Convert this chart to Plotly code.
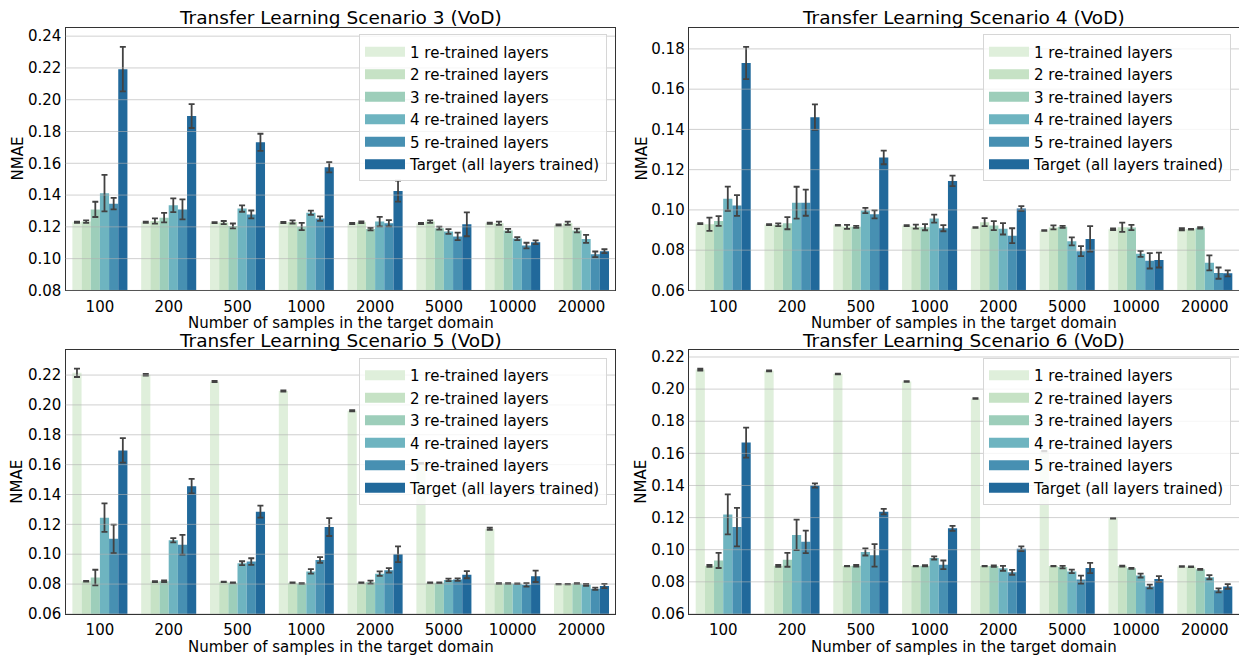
import colorsys
import plotly.graph_objects as go
import plotly.colors as pc

categories = ["100", "200", "500", "1000", "2000", "5000", "10000", "20000"]
series_names = ["1 re-trained layers", "2 re-trained layers", "3 re-trained layers",
                "4 re-trained layers", "5 re-trained layers", "Target (all layers trained)"]
titles = ["Transfer Learning Scenario 3 (VoD)", "Transfer Learning Scenario 4 (VoD)",
          "Transfer Learning Scenario 5 (VoD)", "Transfer Learning Scenario 6 (VoD)"]

s3_mean = [
    [0.1229, 0.1229, 0.1227, 0.1227, 0.1221, 0.1221, 0.1223, 0.1212],
    [0.1233, 0.1237, 0.1227, 0.1231, 0.1229, 0.1233, 0.1223, 0.1223],
    [0.1310, 0.1258, 0.1206, 0.1202, 0.1186, 0.1192, 0.1177, 0.1177],
    [0.1412, 0.1336, 0.1315, 0.1289, 0.1233, 0.1171, 0.1126, 0.1124],
    [0.1346, 0.1310, 0.1278, 0.1252, 0.1223, 0.1140, 0.1082, 0.1027],
    [0.2192, 0.1897, 0.1732, 0.1575, 0.1425, 0.1216, 0.1103, 0.1047],
]
s3_err = [
    [0.0003, 0.0003, 0.0003, 0.0004, 0.0004, 0.0004, 0.0004, 0.0004],
    [0.0008, 0.0017, 0.0010, 0.0010, 0.0005, 0.0008, 0.0010, 0.0010],
    [0.0048, 0.0030, 0.0015, 0.0023, 0.0008, 0.0010, 0.0010, 0.0012],
    [0.0115, 0.0043, 0.0020, 0.0013, 0.0030, 0.0015, 0.0010, 0.0025],
    [0.0036, 0.0063, 0.0025, 0.0014, 0.0020, 0.0024, 0.0018, 0.0018],
    [0.0140, 0.0075, 0.0054, 0.0032, 0.0066, 0.0075, 0.0012, 0.0012],
]
s4_mean = [
    [0.0932, 0.0927, 0.0924, 0.0922, 0.0913, 0.0898, 0.0904, 0.0904],
    [0.0929, 0.0926, 0.0916, 0.0917, 0.0939, 0.0913, 0.0914, 0.0904],
    [0.0945, 0.0934, 0.0916, 0.0914, 0.0922, 0.0916, 0.0913, 0.0911],
    [0.1056, 0.1036, 0.0997, 0.0957, 0.0906, 0.0844, 0.0782, 0.0737],
    [0.1022, 0.1036, 0.0978, 0.0909, 0.0872, 0.0795, 0.0747, 0.0686],
    [0.1730, 0.1461, 0.1261, 0.1144, 0.1007, 0.0856, 0.0751, 0.0685],
]
s4_err = [
    [0.0002, 0.0002, 0.0002, 0.0002, 0.0002, 0.0002, 0.0004, 0.0005],
    [0.0033, 0.0007, 0.0010, 0.0010, 0.0020, 0.0010, 0.0023, 0.0002],
    [0.0024, 0.0030, 0.0005, 0.0015, 0.0022, 0.0005, 0.0013, 0.0004],
    [0.0060, 0.0079, 0.0013, 0.0020, 0.0028, 0.0020, 0.0015, 0.0037],
    [0.0052, 0.0065, 0.0020, 0.0015, 0.0037, 0.0025, 0.0038, 0.0028],
    [0.0080, 0.0063, 0.0034, 0.0026, 0.0012, 0.0063, 0.0037, 0.0015],
]
s5_mean = [
    [0.2215, 0.2202, 0.2156, 0.2093, 0.1961, 0.1607, 0.1171, 0.0800],
    [0.0819, 0.0817, 0.0815, 0.0809, 0.0809, 0.0809, 0.0804, 0.0800],
    [0.0844, 0.0819, 0.0809, 0.0804, 0.0813, 0.0809, 0.0804, 0.0804],
    [0.1245, 0.1094, 0.0940, 0.0885, 0.0870, 0.0828, 0.0802, 0.0795],
    [0.1103, 0.1063, 0.0951, 0.0962, 0.0892, 0.0830, 0.0795, 0.0769],
    [0.1695, 0.1456, 0.1285, 0.1182, 0.1000, 0.0863, 0.0852, 0.0787],
]
s5_err = [
    [0.0028, 0.0006, 0.0004, 0.0004, 0.0004, 0.0004, 0.0007, 0.0002],
    [0.0003, 0.0003, 0.0002, 0.0002, 0.0002, 0.0003, 0.0002, 0.0002],
    [0.0052, 0.0006, 0.0002, 0.0003, 0.0010, 0.0003, 0.0003, 0.0003],
    [0.0095, 0.0014, 0.0013, 0.0015, 0.0015, 0.0008, 0.0002, 0.0006],
    [0.0095, 0.0066, 0.0022, 0.0019, 0.0015, 0.0008, 0.0012, 0.0008],
    [0.0082, 0.0049, 0.0040, 0.0060, 0.0053, 0.0024, 0.0038, 0.0014],
]
s6_mean = [
    [0.2122, 0.2114, 0.2094, 0.2047, 0.1941, 0.1614, 0.1196, 0.0896],
    [0.0900, 0.0900, 0.0898, 0.0898, 0.0898, 0.0898, 0.0898, 0.0894],
    [0.0933, 0.0937, 0.0900, 0.0900, 0.0898, 0.0892, 0.0884, 0.0878],
    [0.1220, 0.1092, 0.0986, 0.0949, 0.0884, 0.0865, 0.0839, 0.0829],
    [0.1141, 0.1049, 0.0965, 0.0906, 0.0859, 0.0814, 0.0771, 0.0747],
    [0.1667, 0.1400, 0.1237, 0.1133, 0.1006, 0.0886, 0.0818, 0.0771],
]
s6_err = [
    [0.0006, 0.0003, 0.0002, 0.0002, 0.0002, 0.0002, 0.0002, 0.0002],
    [0.0006, 0.0006, 0.0002, 0.0002, 0.0002, 0.0002, 0.0003, 0.0002],
    [0.0047, 0.0043, 0.0005, 0.0004, 0.0004, 0.0008, 0.0003, 0.0003],
    [0.0125, 0.0095, 0.0022, 0.0010, 0.0015, 0.0011, 0.0012, 0.0013],
    [0.0120, 0.0070, 0.0070, 0.0027, 0.0015, 0.0025, 0.0012, 0.0012],
    [0.0093, 0.0013, 0.0017, 0.0016, 0.0015, 0.0032, 0.0018, 0.0015],
]
y_ranges = [[0.08, 0.2454], [0.06, 0.1906], [0.06, 0.2365], [0.06, 0.2241]]
y_ticks = [
    [0.08, 0.10, 0.12, 0.14, 0.16, 0.18, 0.20, 0.22, 0.24],
    [0.06, 0.08, 0.10, 0.12, 0.14, 0.16, 0.18],
    [0.06, 0.08, 0.10, 0.12, 0.14, 0.16, 0.18, 0.20, 0.22],
    [0.06, 0.08, 0.10, 0.12, 0.14, 0.16, 0.18, 0.20, 0.22],
]
panels = [(s3_mean, s3_err), (s4_mean, s4_err), (s5_mean, s5_err), (s6_mean, s6_err)]

# ---- styling -------------------------------------------------------------
W, H = 1239, 662
FONT = "DejaVu Sans"
base = pc.sample_colorscale("GnBu", [i / 7 for i in range(1, 7)])


def desat(rgbstr, prop=0.75):
    r, g, b = [float(v) / 255 for v in rgbstr[rgbstr.index("(") + 1:-1].split(",")]
    h, l, s = colorsys.rgb_to_hls(r, g, b)
    r, g, b = colorsys.hls_to_rgb(h, l, s * prop)
    return "rgb(%d,%d,%d)" % (round(r * 255), round(g * 255), round(b * 255))


colors = [desat(c) for c in base]

# pixel boxes of the four axes: (left, right, top, bottom)
boxes = [(65.5, 615.0, 26.0, 293.3), (688.8, 1239.0, 26.0, 293.3),
         (65.5, 615.0, 354.3, 622.3), (688.8, 1239.0, 354.3, 622.3)]
unit_px = 68.8
legend_pos = [(607, 33), (1231, 33), (607, 362), (1231, 362)]
xtitle_y = [326.0, 326.0, 655.5, 655.5]
ytitle_x = [17.5, 641.5, 17.5, 641.5]

fig = go.Figure()
layout = dict(width=W, height=H, margin=dict(l=0, r=0, t=0, b=0),
              paper_bgcolor="white", plot_bgcolor="white", barmode="group",
              bargap=0.2, bargroupgap=0.0, showlegend=True,
              font=dict(family=FONT, size=15, color="black"))
annotations = []
shapes = []

for i, (means, errs) in enumerate(panels):
    n = i + 1
    sfx = "" if n == 1 else str(n)
    xa, ya = "x" + sfx, "y" + sfx
    lg = "legend" + sfx
    for k in range(6):
        fig.add_trace(go.Bar(
            x=categories, y=means[k], name=series_names[k],
            marker=dict(color=colors[k], line=dict(width=0)),
            error_y=dict(type="data", array=errs[k], color="#424242",
                         thickness=1.8, width=3),
            xaxis=xa, yaxis=ya, showlegend=False, offsetgroup=str(k)))
    for k in range(6):
        fig.add_trace(go.Scatter(
            x=[None], y=[None], mode="lines", name=series_names[k],
            line=dict(color=colors[k], width=10), xaxis=xa, yaxis=ya,
            legend=lg, showlegend=True))
    l, r, t, b = boxes[i]
    width_units = (r - l) / unit_px
    layout["xaxis" + sfx] = dict(
        domain=[l / W, r / W], anchor=ya, type="category",
        range=[-0.5, -0.5 + width_units], showgrid=False, zeroline=False,
        showline=True, linecolor="#333333", linewidth=1.2, mirror=True,
        ticks="outside", ticklen=2, tickcolor="rgba(0,0,0,0)",
        tickfont=dict(family=FONT, size=15, color="black"))
    layout["yaxis" + sfx] = dict(
        domain=[1 - b / H, 1 - t / H], anchor=xa, range=y_ranges[i],
        tickvals=y_ticks[i], tickformat=".2f", showgrid=False, zeroline=False,
        showline=True, linecolor="#333333", linewidth=1.2,
        mirror=(n in (1, 3)),
        ticks="", tickfont=dict(family=FONT, size=15, color="black"))
    lx, ly = legend_pos[i]
    layout[lg] = dict(x=lx / W, y=1 - ly / H, xanchor="right", yanchor="top",
                      xref="paper", yref="paper",
                      bgcolor="rgba(255,255,255,0.8)", bordercolor="#d6d6d6",
                      borderwidth=1, itemwidth=40,
                      font=dict(family=FONT, size=15, color="black"))
    # grid drawn above the bars, as in the reference
    for tv in y_ticks[i]:
        shapes.append(dict(type="line", xref=xa + " domain", x0=0, x1=1,
                           yref=ya, y0=tv, y1=tv,
                           line=dict(color="rgba(176,176,176,0.6)", width=1),
                           layer="above"))
    for c in categories:
        shapes.append(dict(type="line", xref=xa, x0=c, x1=c,
                           yref=ya + " domain", y0=0, y1=1,
                           line=dict(color="rgba(176,176,176,0.6)", width=1),
                           layer="above"))
    cx = (l + (l + 8 * unit_px)) / 2 / W
    annotations.append(dict(text=titles[i], xref="paper", yref="paper",
                            x=cx, y=1 - t / H, yshift=-2.5,
                            xanchor="center", yanchor="bottom", showarrow=False,
                            font=dict(family=FONT, size=18.5, color="black")))
    annotations.append(dict(text="Number of samples in the target domain",
                            xref="paper", yref="paper", x=cx,
                            y=1 - xtitle_y[i] / H, xanchor="center",
                            yanchor="middle", showarrow=False,
                            font=dict(family=FONT, size=15, color="black")))
    annotations.append(dict(text="NMAE", xref="paper", yref="paper",
                            x=ytitle_x[i] / W, y=1 - (t + b) / 2 / H,
                            xanchor="center", yanchor="middle", textangle=-90,
                            showarrow=False,
                            font=dict(family=FONT, size=15, color="black")))

layout["annotations"] = annotations
layout["shapes"] = shapes
fig.update_layout(**layout)
fig.write_html(
    "out.html",
    config={"displayModeBar": False},
    post_script="document.body.style.margin='0';document.body.style.overflow='hidden';")
